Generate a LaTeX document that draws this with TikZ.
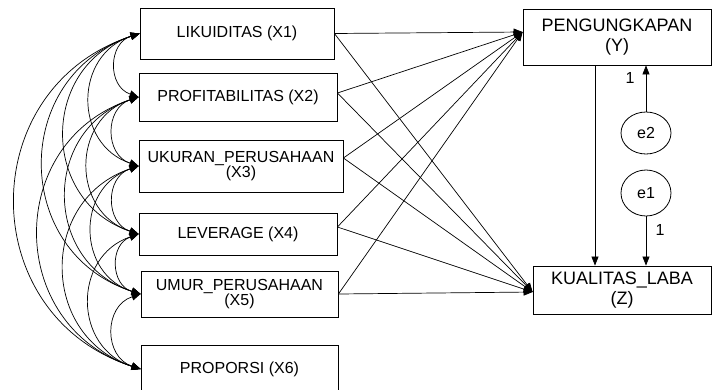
\documentclass[tikz,border=0pt]{standalone}
\usepackage{fontspec}
\setmainfont{Liberation Sans}
\usetikzlibrary{arrows.meta,shapes.geometric}
\begin{document}
\begin{tikzpicture}[x=1pt,y=-1pt,
  xbox/.style={draw, line width=0.8pt, inner sep=0pt, align=center, font=\fontsize{16}{15.5}\selectfont},
  ybox/.style={draw, line width=0.8pt, inner sep=0pt, align=center, font=\fontsize{18}{20}\selectfont},
  err/.style={draw, line width=0.8pt, shape=ellipse, inner sep=0pt, font=\fontsize{16}{18}\selectfont},
  arr/.style={line width=0.7pt, -{Triangle[length=9pt,width=7pt]}},
  cov/.style={line width=0.7pt, {Triangle[length=9pt,width=7.5pt]}-{Triangle[length=9pt,width=7.5pt]}, bend right=72, looseness=1.33},
  lbl/.style={inner sep=0pt, font=\fontsize{16}{18}\selectfont}
]
\useasboundingbox (0,0) rectangle (712,389);
% exogenous boxes
\node[xbox, minimum width=194pt, minimum height=51pt] (X1) at (237,33.5) {LIKUIDITAS (X1)};
\node[xbox, minimum width=198pt, minimum height=48pt] (X2) at (238,97) {PROFITABILITAS (X2)};
\node[xbox, minimum width=204pt, minimum height=52pt] (X3) at (241,166) {UKURAN\_PERUSAHAAN\\(X3)};
\node[xbox, minimum width=198pt, minimum height=42pt] (X4) at (238,234) {LEVERAGE (X4)};
\node[xbox, minimum width=197pt, minimum height=46pt] (X5) at (239.5,294) {UMUR\_PERUSAHAAN\\(X5)};
\node[xbox, minimum width=197pt, minimum height=48pt] (X6) at (239.5,369) {PROPORSI (X6)};
% endogenous boxes
\node[ybox, minimum width=188pt, minimum height=56pt] (Y) at (617,37) {PENGUNGKAPAN\\(Y)};
\node[ybox, minimum width=178pt, minimum height=48pt] (Z) at (622,290) {KUALITAS\_LABA\\(Z)};
% error terms
\node[err, minimum width=50pt, minimum height=42pt] (e2) at (646,133) {e2};
\node[err, minimum width=50pt, minimum height=46pt] (e1) at (646,193) {e1};
% covariances
\foreach \a/\b in {X1/X2,X1/X3,X1/X4,X1/X5,X1/X6,X2/X3,X2/X4,X2/X5,X2/X6,X3/X4,X3/X5,X3/X6,X4/X5,X4/X6,X5/X6}
  \draw[cov] (\a.west) to (\b.west);
% paths to Y
\draw[arr] (X1.east) -- ([yshift=5pt]Y.west);
\draw[arr] ([yshift=4pt]X2.east) -- ([yshift=5pt]Y.west);
\draw[arr] ([yshift=8pt]X3.east) -- ([yshift=5pt]Y.west);
\draw[arr] ([yshift=7pt]X4.east) -- ([yshift=5pt]Y.west);
\draw[arr] (X5.east) -- ([yshift=5pt]Y.west);
% paths to Z
\draw[arr] (X1.east) -- ([yshift=-2pt]Z.west);
\draw[arr] ([yshift=4pt]X2.east) -- ([yshift=-2pt]Z.west);
\draw[arr] ([yshift=8pt]X3.east) -- ([yshift=-2pt]Z.west);
\draw[arr] ([yshift=7pt]X4.east) -- ([yshift=-2pt]Z.west);
\draw[arr] (X5.east) -- ([yshift=-2pt]Z.west);
% Y to Z
\draw[arr] ([xshift=-22pt]Y.south) -- ([xshift=-22pt]Y.south |- Z.north);
% errors
\draw[arr] (e2.north) -- (e2.north |- Y.south);
\draw[arr] (e1.south) -- (e1.south |- Z.north);
\node[lbl] (l2) at (630,78) {1};
\node[lbl] (l1) at (660,230) {1};
\end{tikzpicture}
\end{document}
